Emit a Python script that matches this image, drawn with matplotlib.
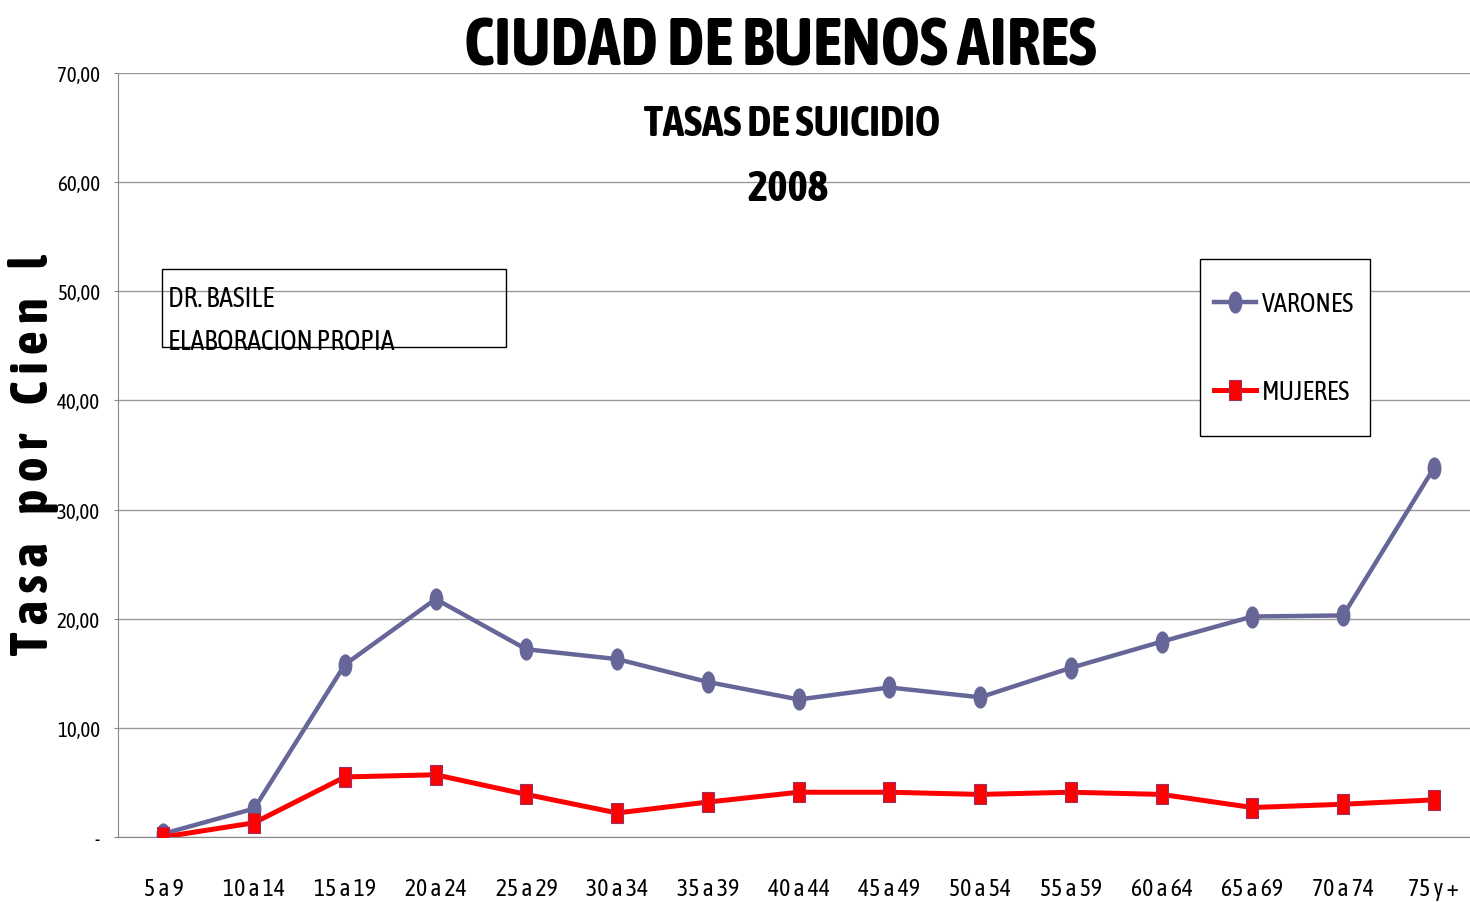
import matplotlib
matplotlib.use("Agg")
import matplotlib.pyplot as plt
from matplotlib.patches import Rectangle
from matplotlib.path import Path
from matplotlib.transforms import Affine2D

plt.rcParams['font.family'] = ['Asap Condensed', 'Barlow Condensed', 'DejaVu Sans']

grupos = ['5 a 9', '10 a 14', '15 a 19', '20 a 24', '25 a 29', '30 a 34', '35 a 39',
          '40 a 44', '45 a 49', '50 a 54', '55 a 59', '60 a 64', '65 a 69', '70 a 74', '75 y +']
varones = [0.3, 2.6, 15.8, 21.8, 17.2, 16.3, 14.2, 12.6, 13.7, 12.8, 15.5, 17.9, 20.2, 20.3, 33.8]
mujeres = [0.0, 1.3, 5.5, 5.7, 3.9, 2.2, 3.2, 4.1, 4.1, 3.9, 4.1, 3.9, 2.7, 3.0, 3.4]
yticks = [0, 10, 20, 30, 40, 50, 60, 70]
ytick_labels = ['-', '10,00', '20,00', '30,00', '40,00', '50,00', '60,00', '70,00']

# marcadores altos y angostos (elipse y rectangulo)
elipse = Path.unit_circle().transformed(Affine2D().scale(0.6, 1.0))
rect = Path([(-0.6, -1), (0.6, -1), (0.6, 1), (-0.6, 1), (-0.6, -1)],
            [Path.MOVETO, Path.LINETO, Path.LINETO, Path.LINETO, Path.CLOSEPOLY])

fig = plt.figure(figsize=(14.7, 9.03), dpi=100)
ax = fig.add_axes([0.0803, 0.072, 0.926, 0.846])

x = range(len(grupos))
l1, = ax.plot(x, varones, color='#666699', lw=3.2, marker=elipse, ms=15,
              mec='#666699', label='VARONES', zorder=3)
l2, = ax.plot(x, mujeres, color='#ff0000', lw=3.6, marker=rect, ms=15,
              mec='#993366', mew=0.8, label='MUJERES', zorder=4)

ax.set_xlim(-0.5, 14.5)
ax.set_ylim(0, 70)
ax.set_yticks(yticks)
ax.set_yticklabels(ytick_labels, fontsize=15)
ax.set_xticks(list(x))
ax.set_xticklabels(grupos, fontsize=17)
ax.tick_params(axis='x', length=0, pad=29)
ax.tick_params(axis='y', length=3, color='#888888', pad=10)
ax.grid(axis='y', color='#999999', lw=1)
ax.set_axisbelow(True)
for s in ['top', 'right']:
    ax.spines[s].set_visible(False)
for s in ['left', 'bottom']:
    ax.spines[s].set_color('#888888')

fig.text(0.023, 0.496, 'T a s a    p o r    C i e n    l', rotation=90,
         ha='center', va='center', fontsize=38, fontweight='bold')

fig.text(0.5306, 0.928, 'CIUDAD DE BUENOS AIRES', ha='center', va='baseline',
         fontsize=48, fontweight='bold')
fig.text(0.539, 0.849, 'TASAS DE SUICIDIO', ha='center', va='baseline',
         fontsize=31, fontweight='bold')
fig.text(0.536, 0.777, '2008', ha='center', va='baseline',
         fontsize=31, fontweight='bold')

# recuadro de autor
fig.patches.append(Rectangle((162 / 1470, 1 - 348 / 903), 344 / 1470, 78 / 903,
                             transform=fig.transFigure, fill=False, ec='black', lw=1))
fig.text(168 / 1470, 1 - 307 / 903, 'DR. BASILE', va='baseline', fontsize=20)
fig.text(168 / 1470, 1 - 350 / 903, 'ELABORACION PROPIA', va='baseline', fontsize=20)

# leyenda
fig.patches.append(Rectangle((1200 / 1470, 1 - 437 / 903), 170 / 1470, 177 / 903,
                             transform=fig.transFigure, fill=True, fc='white',
                             ec='black', lw=1, zorder=5))
leg = fig.legend(handles=[l1, l2], loc='upper left',
                 bbox_to_anchor=(1214 / 1470, 1 - 292 / 903),
                 fontsize=19, frameon=False,
                 labelspacing=2.4, handlelength=1.6, handletextpad=0.2,
                 borderpad=0, borderaxespad=0)
leg.set_zorder(6)

fig.savefig('out.png', dpi=100)
